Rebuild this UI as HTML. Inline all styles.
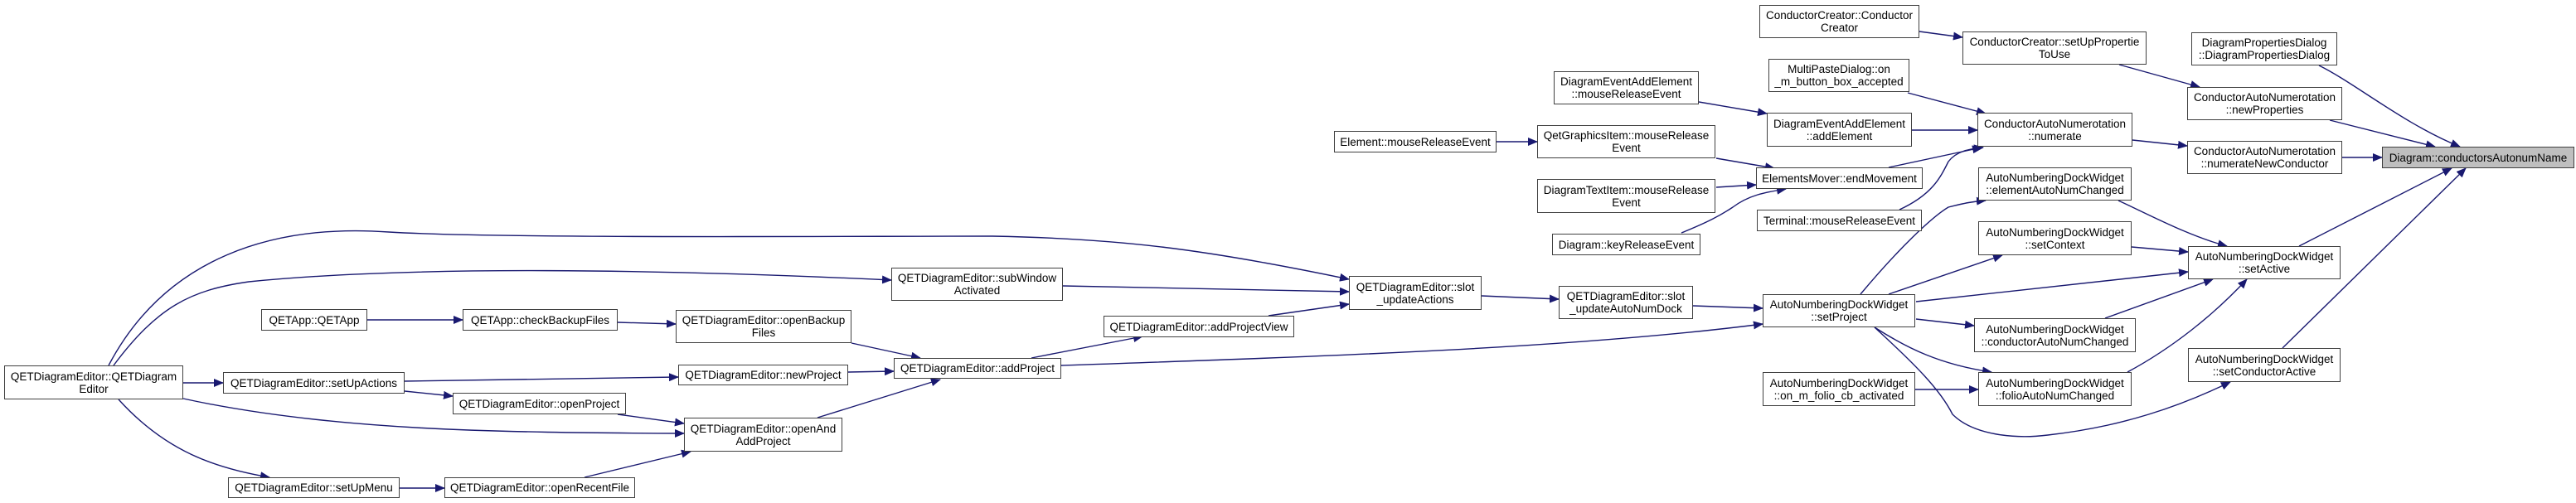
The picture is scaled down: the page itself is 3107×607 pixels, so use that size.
<!DOCTYPE html>
<html><head><meta charset="utf-8"><style>
html,body{margin:0;padding:0;background:#fff;}
body{width:3107px;height:607px;position:relative;overflow:hidden;font-family:"Liberation Sans",Arial,sans-serif;}
.n{position:absolute;box-sizing:border-box;border:1.5px solid #404040;background:#fff;display:flex;align-items:center;justify-content:center;text-align:center;font-size:13.5px;line-height:15px;color:#000;white-space:nowrap;}
.g{background:#bfbfbf;}
svg{position:absolute;left:0;top:0;}
</style></head><body>
<svg width="3107" height="607" viewBox="0 0 3107 607">
<defs><marker id="a" markerUnits="userSpaceOnUse" markerWidth="12" markerHeight="10" refX="11" refY="5" orient="auto"><path d="M0,0 L12,5 L0,10 z" fill="#191970"/></marker></defs>
<g fill="none" stroke="#191970" stroke-width="1.4" marker-end="url(#a)">
<path d="M221,462 L269,462"/>
<path d="M443,386 L558,386"/>
<path d="M745,389 L815,391"/>
<path d="M488,460 L818,455"/>
<path d="M488,472 L546,478"/>
<path d="M745,500 L825,511"/>
<path d="M221,481 C400,520 600,522 825,523"/>
<path d="M143,482 C200,545 260,565 325,576"/>
<path d="M482,589 L536,589"/>
<path d="M705,576 L833,545"/>
<path d="M131,441 C200,310 330,270 469,280 C600,288 1000,285 1197,285 C1350,288 1450,300 1627,337"/>
<path d="M137,441 C190,370 230,350 300,340 C500,320 800,325 1075,338"/>
<path d="M1027,414 L1110,432"/>
<path d="M1023,449 L1078,448"/>
<path d="M986,504 L1134,458"/>
<path d="M1244,432 L1378,406"/>
<path d="M1530,381 L1627,367"/>
<path d="M1282,345 L1627,352"/>
<path d="M1787,357 L1880,361"/>
<path d="M1280,441 C1600,430 1900,420 2126,391"/>
<path d="M2042,369 L2126,372"/>
<path d="M1805,171 L1854,171"/>
<path d="M2049,123 L2131,137"/>
<path d="M2070,191 L2140,203"/>
<path d="M2070,226 L2118,223"/>
<path d="M2028,281 C2060,268 2075,260 2090,250 C2110,235 2130,232 2154,228"/>
<path d="M2306,157 L2385,157"/>
<path d="M2301,112 L2395,137"/>
<path d="M2278,202 L2390,178"/>
<path d="M2291,253 C2330,235 2340,215 2350,195 C2360,182 2375,180 2392,178"/>
<path d="M2315,38 L2367,45"/>
<path d="M2556,78 L2653,105"/>
<path d="M2572,169 L2638,176"/>
<path d="M2810,145 L2937,177"/>
<path d="M2797,79 C2840,100 2900,150 2967,177"/>
<path d="M2825,190 L2873,190"/>
<path d="M2773,297 L2957,203"/>
<path d="M2753,420 L2974,203"/>
<path d="M2555,242 C2590,258 2640,285 2686,297"/>
<path d="M2571,298 L2639,304"/>
<path d="M2311,364 L2639,328"/>
<path d="M2539,384 L2669,337"/>
<path d="M2566,449 C2620,420 2670,380 2710,337"/>
<path d="M2244,355 C2290,300 2330,262 2350,250 C2370,245 2380,243 2395,242"/>
<path d="M2278,355 L2415,308"/>
<path d="M2311,385 L2381,393"/>
<path d="M2261,395 C2300,420 2340,440 2402,449"/>
<path d="M2261,395 C2310,440 2340,470 2355,500 C2380,525 2430,530 2470,525 C2560,515 2630,490 2690,461"/>
<path d="M2310,470 L2386,470"/>
</g>
</svg>
<div class="n" style="left:5px;top:441px;width:216px;height:41px">QETDiagramEditor::QETDiagram<br>Editor</div>
<div class="n" style="left:315px;top:373px;width:128px;height:26px">QETApp::QETApp</div>
<div class="n" style="left:558px;top:373px;width:187px;height:26px">QETApp::checkBackupFiles</div>
<div class="n" style="left:815px;top:374px;width:212px;height:40px">QETDiagramEditor::openBackup<br>Files</div>
<div class="n" style="left:269px;top:449px;width:219px;height:26px">QETDiagramEditor::setUpActions</div>
<div class="n" style="left:818px;top:440px;width:205px;height:25px">QETDiagramEditor::newProject</div>
<div class="n" style="left:546px;top:474px;width:209px;height:26px">QETDiagramEditor::openProject</div>
<div class="n" style="left:825px;top:504px;width:191px;height:41px">QETDiagramEditor::openAnd<br>AddProject</div>
<div class="n" style="left:275px;top:576px;width:207px;height:25px">QETDiagramEditor::setUpMenu</div>
<div class="n" style="left:536px;top:576px;width:230px;height:25px">QETDiagramEditor::openRecentFile</div>
<div class="n" style="left:1874px;top:86px;width:175px;height:40px">DiagramEventAddElement<br>::mouseReleaseEvent</div>
<div class="n" style="left:1609px;top:158px;width:196px;height:26px">Element::mouseReleaseEvent</div>
<div class="n" style="left:1854px;top:151px;width:215px;height:40px">QetGraphicsItem::mouseRelease<br>Event</div>
<div class="n" style="left:1854px;top:216px;width:215px;height:41px">DiagramTextItem::mouseRelease<br>Event</div>
<div class="n" style="left:1872px;top:282px;width:179px;height:26px">Diagram::keyReleaseEvent</div>
<div class="n" style="left:1075px;top:323px;width:207px;height:40px">QETDiagramEditor::subWindow<br>Activated</div>
<div class="n" style="left:1627px;top:333px;width:160px;height:41px">QETDiagramEditor::slot<br>_updateActions</div>
<div class="n" style="left:1880px;top:345px;width:162px;height:40px">QETDiagramEditor::slot<br>_updateAutoNumDock</div>
<div class="n" style="left:1331px;top:381px;width:230px;height:26px">QETDiagramEditor::addProjectView</div>
<div class="n" style="left:1078px;top:432px;width:202px;height:25px">QETDiagramEditor::addProject</div>
<div class="n" style="left:2122px;top:6px;width:193px;height:40px">ConductorCreator::Conductor<br>Creator</div>
<div class="n" style="left:2367px;top:38px;width:222px;height:40px">ConductorCreator::setUpPropertie<br>ToUse</div>
<div class="n" style="left:2643px;top:39px;width:176px;height:40px">DiagramPropertiesDialog<br>::DiagramPropertiesDialog</div>
<div class="n" style="left:2133px;top:71px;width:170px;height:40px">MultiPasteDialog::on<br>_m_button_box_accepted</div>
<div class="n" style="left:2638px;top:105px;width:187px;height:40px">ConductorAutoNumerotation<br>::newProperties</div>
<div class="n" style="left:2131px;top:136px;width:175px;height:41px">DiagramEventAddElement<br>::addElement</div>
<div class="n" style="left:2385px;top:136px;width:187px;height:41px">ConductorAutoNumerotation<br>::numerate</div>
<div class="n" style="left:2638px;top:170px;width:187px;height:40px">ConductorAutoNumerotation<br>::numerateNewConductor</div>
<div class="n g" style="left:2873px;top:177px;width:232px;height:26px">Diagram::conductorsAutonumName</div>
<div class="n" style="left:2118px;top:202px;width:201px;height:26px">ElementsMover::endMovement</div>
<div class="n" style="left:2119px;top:253px;width:199px;height:26px">Terminal::mouseReleaseEvent</div>
<div class="n" style="left:2386px;top:202px;width:185px;height:40px">AutoNumberingDockWidget<br>::elementAutoNumChanged</div>
<div class="n" style="left:2386px;top:267px;width:185px;height:41px">AutoNumberingDockWidget<br>::setContext</div>
<div class="n" style="left:2639px;top:297px;width:184px;height:40px">AutoNumberingDockWidget<br>::setActive</div>
<div class="n" style="left:2126px;top:355px;width:184px;height:40px">AutoNumberingDockWidget<br>::setProject</div>
<div class="n" style="left:2381px;top:384px;width:195px;height:41px">AutoNumberingDockWidget<br>::conductorAutoNumChanged</div>
<div class="n" style="left:2639px;top:420px;width:184px;height:41px">AutoNumberingDockWidget<br>::setConductorActive</div>
<div class="n" style="left:2126px;top:449px;width:184px;height:41px">AutoNumberingDockWidget<br>::on_m_folio_cb_activated</div>
<div class="n" style="left:2386px;top:449px;width:185px;height:41px">AutoNumberingDockWidget<br>::folioAutoNumChanged</div>
</body></html>
